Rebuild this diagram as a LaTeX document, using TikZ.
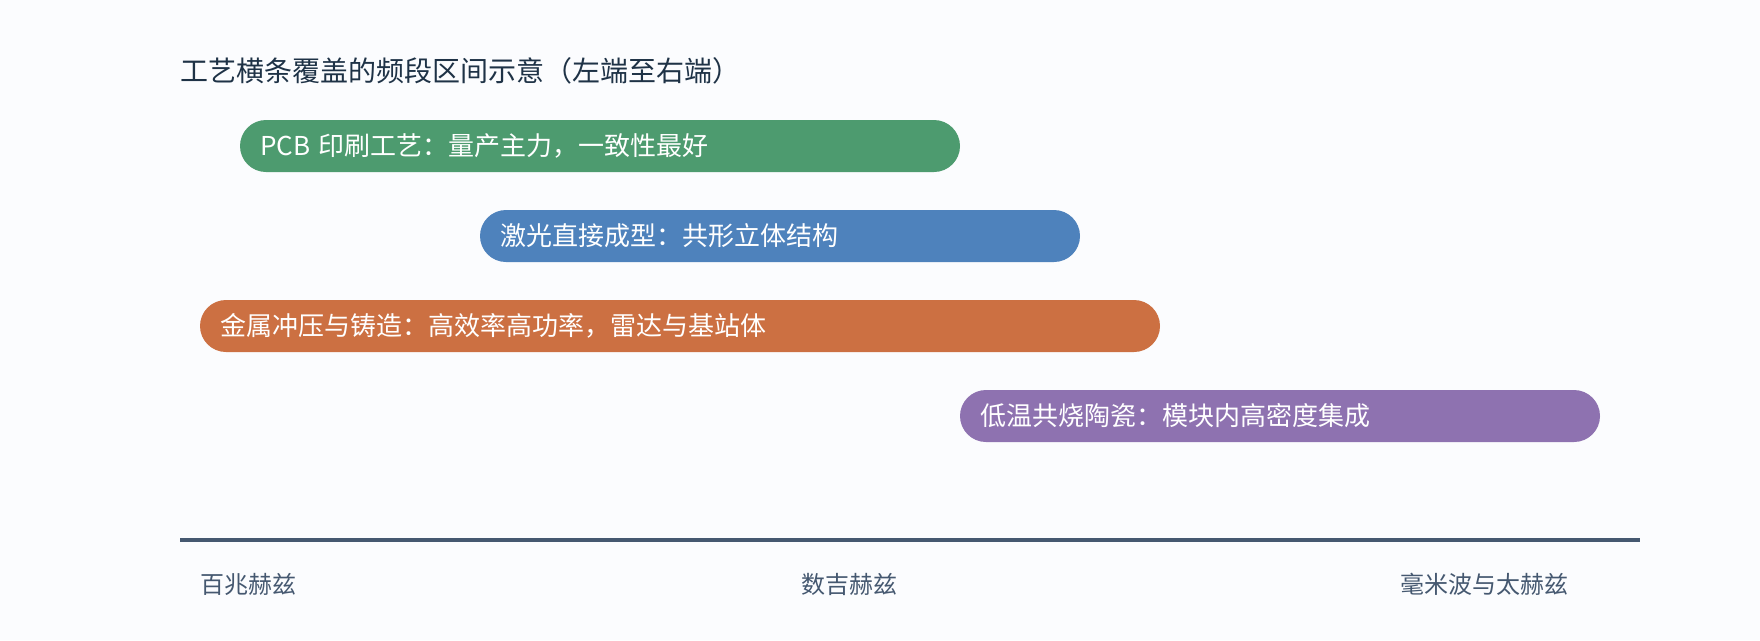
\documentclass[tikz,border=0pt]{standalone}
\usepackage{fontspec}
\setmainfont{Noto Sans CJK SC}
\newfontfamily\titlefont[Kerning=Off]{Noto Sans CJK SC}
\definecolor{bgc}{HTML}{FBFCFE}
\definecolor{titlec}{HTML}{1E3246}
\definecolor{axisc}{HTML}{455870}
\definecolor{pcbc}{HTML}{4D9B6F}
\definecolor{ldsc}{HTML}{4E82BC}
\definecolor{metalc}{HTML}{CC7042}
\definecolor{ltccc}{HTML}{8E72B0}
\begin{document}
\begin{tikzpicture}[x=1pt,y=-1pt]
\tikzset{ inner sep=0pt, outer sep=0pt,
  bar/.style={anchor=west, rounded corners=26pt, minimum height=52pt, inner xsep=20pt,
    text=white, align=left, font=\fontsize{26}{30}\selectfont},
  band/.style={text=axisc, font=\fontsize{24}{28}\selectfont} }

\fill [bgc] (0,0) rectangle (1760,640);

\node [anchor=west, text=titlec, font=\titlefont\fontsize{28}{32}\selectfont] (T) at (180,71) {工艺横条覆盖的频段区间示意（左端至右端）};

\node [bar, fill=pcbc,   text width=680pt] (PCB)   at (240,146) {PCB 印刷工艺：量产主力，一致性最好};
\node [bar, fill=ldsc,   text width=560pt] (LDS)   at (480,236) {激光直接成型：共形立体结构};
\node [bar, fill=metalc, text width=920pt] (METAL) at (200,326) {金属冲压与铸造：高效率高功率，雷达与基站体};
\node [bar, fill=ltccc,  text width=600pt] (LTCC)  at (960,416) {低温共烧陶瓷：模块内高密度集成};

\coordinate (AL) at (180,540);
\coordinate (AR) at (1640,540);
\draw [axisc, line width=4.5pt] (AL) -- (AR);

\node [band, anchor=west] (LOW) at (200,584) {百兆赫兹};
\node [band]              (MID) at (849,584) {数吉赫兹};
\node [band, anchor=east] (TOP) at (1568,584) {毫米波与太赫兹};

\end{tikzpicture}
\end{document}
